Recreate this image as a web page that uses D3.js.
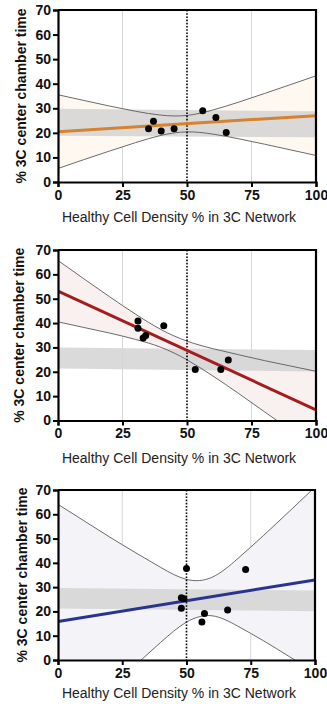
<!DOCTYPE html>
<html>
<head>
<meta charset="utf-8">
<script src="https://cdn.jsdelivr.net/npm/d3@7"></script>
<style>
  body { margin: 0; background: #fff; }
  svg { display: block; font-family: "Liberation Sans", Arial, sans-serif; }
</style>
</head>
<body>
<svg id="chart" width="327" height="706"></svg>
<script>
// shared axis data
const xTicks = [0, 25, 50, 75, 100];
const yTicks = [0, 10, 20, 30, 40, 50, 60, 70];
const ciX = [0, 10, 20, 30, 40, 50, 60, 70, 80, 90, 100];
const fitX = [0, 100];
const bandX = [0, 100];

// panel 1 (orange)
const p1X = [35.1, 37.0, 40.0, 45.0, 56.1, 61.2, 65.2];
const p1Y = [21.7, 24.7, 20.8, 21.7, 29.0, 26.3, 20.1];
const p1Fit = [20.5, 27.0];
const p1Upper = [35.5, 33.2, 30.9, 28.8, 27.2, 27.1, 29.3, 32.5, 36.0, 39.6, 43.2];
const p1Lower = [5.5, 9.1, 12.6, 16.0, 19.0, 20.4, 19.5, 17.6, 15.4, 13.1, 10.8];
const p1BandTop = [29.8, 28.8];
const p1BandBottom = [18.8, 18.2];

// panel 2 (red)
const p2X = [31.0, 31.0, 33.0, 34.0, 41.0, 53.2, 63.1, 66.0];
const p2Y = [40.9, 37.9, 33.9, 34.9, 38.9, 20.9, 20.9, 24.8];
const p2Fit = [53.1, 4.4];
const p2Upper = [65.7, 58.2, 50.8, 43.7, 37.3, 32.6, 29.5, 27.0, 24.6, 22.4, 20.2];
const p2Lower = [40.5, 38.2, 35.9, 33.3, 30.0, 24.9, 18.3, 11.1, 3.6, -3.8, -11.4];
const p2BandTop = [30.0, 28.9];
const p2BandBottom = [21.3, 20.1];

// panel 3 (blue)
const p3X = [48.0, 49.0, 48.0, 50.0, 57.0, 56.0, 66.0, 73.0];
const p3Y = [25.6, 25.2, 21.3, 37.7, 19.1, 15.6, 20.6, 37.3];
const p3Fit = [15.8, 33.0];
const p3Upper = [64.1, 57.4, 50.7, 44.3, 38.1, 33.2, 34.1, 41.8, 51.3, 61.2, 71.2];
const p3Lower = [-32.5, -22.4, -12.3, -2.3, 7.3, 15.6, 18.2, 13.9, 7.9, 1.4, -5.2];
const p3BandTop = [29.6, 28.6];
const p3BandBottom = [21.2, 20.1];

const xTitle = "Healthy Cell Density % in 3C Network";
const yTitle = "% 3C center chamber time";

const panels = [
  { id: 1, xs: p1X, ys: p1Y, fit: p1Fit, upper: p1Upper, lower: p1Lower, bandTop: p1BandTop, bandBottom: p1BandBottom,
    line: "#d4832f", fill: "#fff8f0", top: 10, bottom: 182, right: 316, titleX: 21, xTitleDy: 40 },
  { id: 2, xs: p2X, ys: p2Y, fit: p2Fit, upper: p2Upper, lower: p2Lower, bandTop: p2BandTop, bandBottom: p2BandBottom,
    line: "#a51c1f", fill: "#f9f0f0", top: 250, bottom: 420.5, right: 316, titleX: 19, xTitleDy: 42 },
  { id: 3, xs: p3X, ys: p3Y, fit: p3Fit, upper: p3Upper, lower: p3Lower, bandTop: p3BandTop, bandBottom: p3BandBottom,
    line: "#28348f", fill: "#f3f3f8", top: 490, bottom: 660, right: 315, titleX: 22, xTitleDy: 38 }
];

const svg = d3.select("#chart");
const left = 58;

panels.forEach(p => {
  const x = d3.scaleLinear().domain([0, 100]).range([left, p.right]);
  const y = d3.scaleLinear().domain([0, 70]).range([p.bottom, p.top]);

  const clipId = "clip" + p.id;
  svg.append("clipPath").attr("id", clipId)
    .append("rect")
    .attr("x", left).attr("y", p.top)
    .attr("width", p.right - left).attr("height", p.bottom - p.top);

  const g = svg.append("g").attr("clip-path", `url(#${clipId})`);

  // faint grid at 25 and 75
  g.selectAll("line.grid")
    .data([25, 75])
    .enter().append("line")
    .attr("x1", d => x(d)).attr("x2", d => x(d))
    .attr("y1", p.top).attr("y2", p.bottom)
    .attr("stroke", "#d6d6d6").attr("stroke-width", 1);

  // confidence band fill
  const ci = ciX.map((d, i) => ({ x: d, lo: p.lower[i], hi: p.upper[i] }));
  g.append("path")
    .datum(ci)
    .attr("fill", p.fill)
    .attr("d", d3.area().curve(d3.curveNatural)
      .x(d => x(d.x)).y0(d => y(d.lo)).y1(d => y(d.hi)));

  // grey reference band
  const band = bandX.map((d, i) => ({ x: d, lo: p.bandBottom[i], hi: p.bandTop[i] }));
  g.append("path")
    .datum(band)
    .attr("fill", "#d3d3d3").attr("opacity", 0.85)
    .attr("d", d3.area().x(d => x(d.x)).y0(d => y(d.lo)).y1(d => y(d.hi)));

  // CI curves
  [p.upper, p.lower].forEach(arr => {
    g.append("path")
      .datum(ciX.map((d, i) => [d, arr[i]]))
      .attr("fill", "none").attr("stroke", "#5a5a5a").attr("stroke-width", 0.9)
      .attr("d", d3.line().curve(d3.curveNatural).x(d => x(d[0])).y(d => y(d[1])));
  });

  // dotted line at 50
  g.append("line")
    .attr("x1", x(50)).attr("x2", x(50))
    .attr("y1", p.top).attr("y2", p.bottom)
    .attr("stroke", "#000").attr("stroke-width", 1.6)
    .attr("stroke-dasharray", "1.6,1.6");

  // fit line
  g.append("path")
    .datum(fitX.map((d, i) => [d, p.fit[i]]))
    .attr("fill", "none").attr("stroke", p.line).attr("stroke-width", 3)
    .attr("d", d3.line().x(d => x(d[0])).y(d => y(d[1])));

  // points
  svg.append("g").selectAll("circle")
    .data(p.xs.map((d, i) => [d, p.ys[i]]))
    .enter().append("circle")
    .attr("cx", d => x(d[0])).attr("cy", d => y(d[1]))
    .attr("r", 3.5).attr("fill", "#000");

  // frame (top and right)
  svg.append("path")
    .attr("d", `M${left},${p.top}H${p.right}V${p.bottom}`)
    .attr("fill", "none").attr("stroke", "#000").attr("stroke-width", 2.2);

  // axes
  const xAxis = svg.append("g")
    .attr("transform", `translate(0,${p.bottom})`)
    .call(d3.axisBottom(x).tickValues(xTicks).tickSize(5).tickPadding(3));
  const yAxis = svg.append("g")
    .attr("transform", `translate(${left},0)`)
    .call(d3.axisLeft(y).tickValues(yTicks).tickSize(5).tickPadding(2));
  [xAxis, yAxis].forEach(a => {
    a.select(".domain").attr("stroke-width", 2.2);
    a.selectAll(".tick line").attr("stroke-width", 2);
    a.selectAll("text").attr("font-size", 14).attr("font-weight", "bold")
      .attr("font-family", "'Liberation Sans', Arial, sans-serif").attr("fill", "#111");
  });

  // titles
  svg.append("text")
    .attr("x", 179).attr("y", p.bottom + p.xTitleDy)
    .attr("text-anchor", "middle").attr("font-size", 14).attr("fill", "#222")
    .text(xTitle);
  svg.append("text")
    .attr("transform", `translate(${p.titleX},${(p.top + p.bottom) / 2}) rotate(-90)`)
    .attr("text-anchor", "middle").attr("dy", "0.35em")
    .attr("font-size", 14).attr("font-weight", "bold").attr("fill", "#111")
    .text(yTitle);
});
</script>
</body>
</html>
